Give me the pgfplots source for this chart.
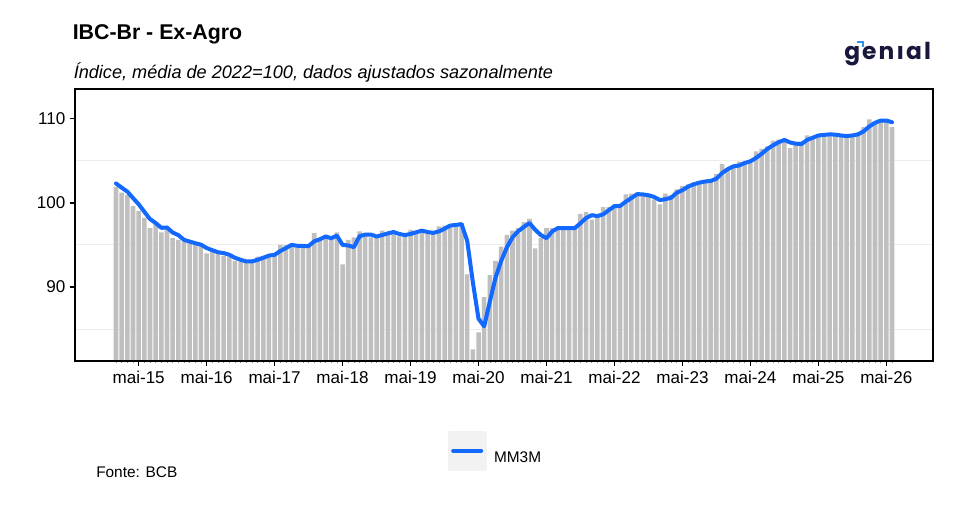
\documentclass[border=0pt]{standalone}
\usepackage{fontspec}
\setmainfont{Liberation Sans}
\newfontfamily\logofont{Poppins}[LetterSpace=9]
\usepackage{pgfplots}
\pgfplotsset{compat=1.18}
\usepackage{pgfplotstable}
\definecolor{barg}{RGB}{191,191,191}
\definecolor{mmblue}{RGB}{18,104,255}
\definecolor{gridc}{RGB}{237,237,237}
\definecolor{keybg}{RGB}{242,242,242}
\definecolor{navy}{RGB}{24,24,60}
\definecolor{accent}{RGB}{40,150,240}

\pgfplotstableread{
i bar mm
0 101.9 102.30
1 101.2 101.80
2 100.9 101.33
3 99.6 100.57
4 99.0 99.83
5 98.2 98.93
6 97.0 98.07
7 97.6 97.60
8 96.5 97.03
9 97.1 97.07
10 95.8 96.47
11 95.6 96.17
12 95.4 95.60
13 95.2 95.40
14 95.0 95.20
15 94.9 95.03
16 94.0 94.63
17 94.2 94.37
18 94.2 94.13
19 93.7 94.03
20 93.6 93.83
21 93.1 93.47
22 93.0 93.23
23 93.0 93.03
24 93.1 93.03
25 93.6 93.23
26 93.7 93.47
27 93.9 93.73
28 93.9 93.83
29 95.0 94.27
30 95.0 94.63
31 95.0 95.00
32 94.7 94.90
33 94.9 94.87
34 95.0 94.87
35 96.4 95.43
36 95.6 95.67
37 96.0 96.00
38 95.8 95.80
39 96.5 96.10
40 92.7 95.00
41 95.6 94.93
42 95.9 94.73
43 96.6 96.03
44 96.2 96.23
45 95.9 96.23
46 95.9 96.00
47 96.7 96.17
48 96.5 96.37
49 96.4 96.53
50 96.0 96.30
51 96.1 96.17
52 96.8 96.30
53 96.6 96.50
54 96.7 96.70
55 96.3 96.53
56 96.3 96.43
57 97.2 96.60
58 97.3 96.93
59 97.4 97.30
60 97.4 97.37
61 97.6 97.47
62 91.5 95.50
63 82.6 90.57
64 84.6 86.23
65 88.8 85.33
66 91.4 88.27
67 93.1 91.10
68 94.8 93.10
69 96.2 94.70
70 96.7 95.90
71 97.0 96.63
72 97.7 97.13
73 98.1 97.60
74 94.6 96.80
75 95.8 96.17
76 97.0 95.80
77 97.0 96.60
78 97.0 97.00
79 97.0 97.00
80 97.0 97.00
81 97.0 97.00
82 98.7 97.57
83 98.9 98.20
84 98.0 98.53
85 98.4 98.43
86 99.5 98.63
87 99.5 99.13
88 99.8 99.60
89 99.6 99.63
90 101.0 100.13
91 101.1 100.57
92 101.0 101.03
93 100.9 101.00
94 100.8 100.90
95 100.4 100.70
96 99.8 100.33
97 101.1 100.43
98 100.9 100.60
99 101.6 101.20
100 102.0 101.50
101 102.2 101.93
102 102.4 102.20
103 102.6 102.40
104 102.6 102.53
105 102.6 102.60
106 103.4 102.87
107 104.6 103.53
108 104.0 104.00
109 104.4 104.33
110 104.9 104.43
111 104.9 104.73
112 105.0 104.93
113 106.1 105.33
114 106.4 105.83
115 106.7 106.40
116 107.4 106.83
117 107.5 107.20
118 107.5 107.47
119 106.5 107.17
120 107.1 107.03
121 107.3 106.97
122 108.0 107.47
123 107.9 107.73
124 108.1 108.00
125 108.2 108.07
126 108.1 108.13
127 108.0 108.10
128 107.9 108.00
129 107.9 107.93
130 108.2 108.00
131 108.3 108.13
132 109.0 108.50
133 109.9 109.07
134 109.6 109.50
135 109.8 109.77
136 109.9 109.77
137 109.0 109.57
}\datatable

\begin{document}
\begin{tikzpicture}[x=0.75pt,y=0.75pt]
\path[use as bounding box, fill=white] (0,0) rectangle (956,531);
\coordinate (axorig) at (75,170);
\node[anchor=base west, font=\fontsize{16}{19}\selectfont\bfseries, inner sep=0pt] at (72.5,491) {IBC-Br - Ex-Agro};
\node[anchor=base west, font=\fontsize{13.6}{16}\selectfont\itshape, inner sep=0pt] at (73.5,452) {Índice, média de 2022=100, dados ajustados sazonalmente};
\node[anchor=base west, font=\fontsize{11.55}{14}\selectfont, inner sep=0pt] at (96,53.7) {Fonte: BCB};
\node[anchor=base west, inner sep=0pt, text=navy, font=\fontsize{17.5}{19}\logofont\bfseries] at (844,471.7) {genıal};
\draw[accent, line width=1.3pt] (857.3,489) -- (862.8,489) -- (862.8,484.3);
\begin{axis}[
  at={(axorig)}, anchor=south west,
  scale only axis, width=643.5pt, height=204pt,
  xmin=-7.24, xmax=144.24, ymin=81.21, ymax=113.52,
  axis line style={black, line width=1.3pt},
  xtick={4,16,28,40,52,64,76,88,100,112,124,136},
  xticklabels={mai-15,mai-16,mai-17,mai-18,mai-19,mai-20,mai-21,mai-22,mai-23,mai-24,mai-25,mai-26},
  minor xtick={0,...,137},
  ytick={90,100,110},
  tick align=outside, xtick pos=bottom, ytick pos=left,
  major tick length=3.75pt, minor tick length=1.8pt,
  major tick style={black, line width=1.1pt},
  minor tick style={black!45, line width=0.5pt},
  tick label style={font=\fontsize{12.8}{15}\selectfont},
  /pgf/number format/assume math mode=true,
  axis on top,
  legend style={at={(axis description cs:0.4344,-0.3298)}, anchor=west, draw=none, fill=none,
    inner sep=0pt, outer sep=0pt, font=\fontsize{11.55}{14}\selectfont, nodes={inner sep=0pt}},
  legend image code/.code={\fill[keybg] (0pt,-7.7pt) rectangle (26.25pt,19.3pt);
    \draw[mmblue, line width=3pt] (2.6pt,5.8pt) -- (23.6pt,5.8pt);},
]
\draw[gridc, line width=0.75pt] (axis cs:-7.24,85) -- (axis cs:144.24,85);
\draw[gridc, line width=0.75pt] (axis cs:-7.24,95) -- (axis cs:144.24,95);
\draw[gridc, line width=0.75pt] (axis cs:-7.24,105) -- (axis cs:144.24,105);
\addplot[ybar, bar width=0.8, fill=barg, draw=none, forget plot] table[x=i,y=bar]{\datatable};
\addplot[mmblue, line width=3pt, line join=round, line cap=round] table[x=i,y=mm]{\datatable};
\addlegendentry{\hspace{5.5pt}MM3M}
\end{axis}
\end{tikzpicture}
\end{document}
